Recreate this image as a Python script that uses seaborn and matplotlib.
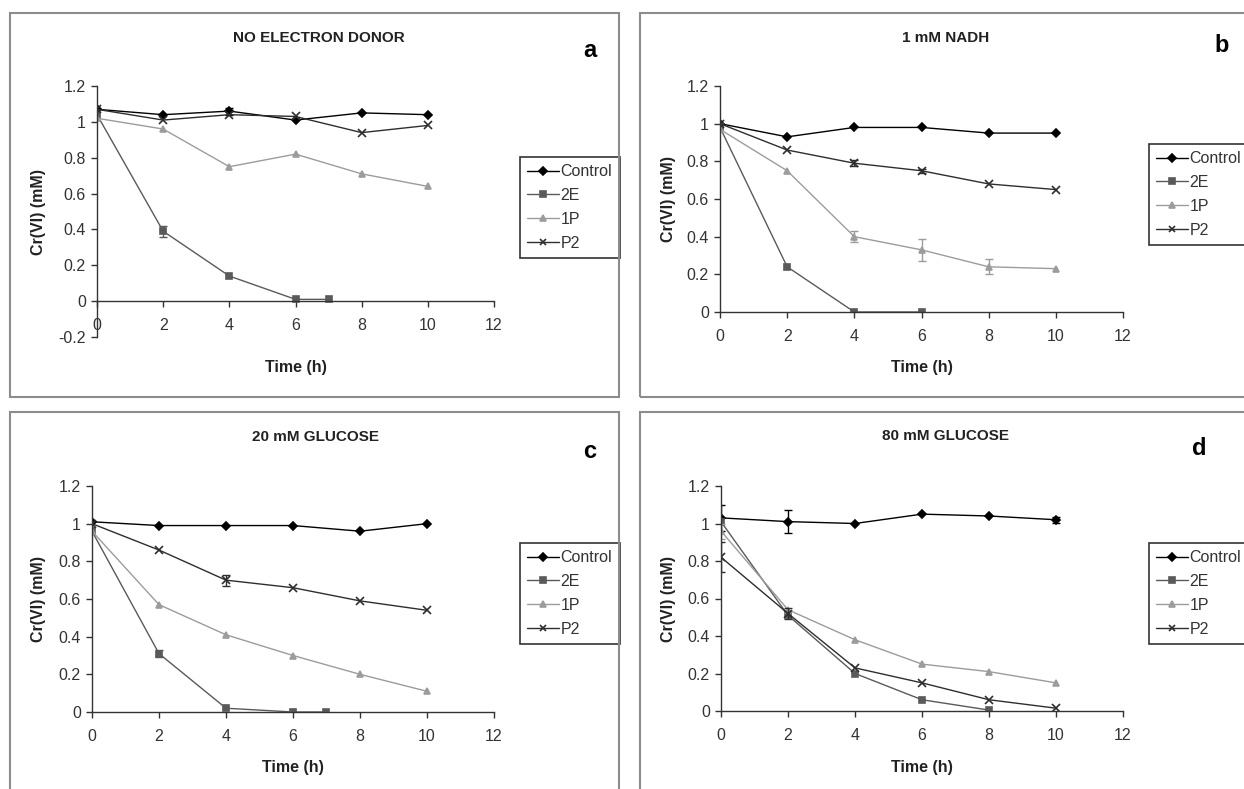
import numpy as np
import pandas as pd
import matplotlib
matplotlib.use('Agg')
import matplotlib.pyplot as plt
from matplotlib.lines import Line2D
from matplotlib.patches import Rectangle
from matplotlib.ticker import FuncFormatter
import seaborn as sns

# Time points (h)
t_full = [0, 2, 4, 6, 8, 10]
t_2e_a = [0, 2, 4, 6, 7]
t_2e_b = [0, 2, 4, 6]
t_2e_c = [0, 2, 4, 6, 7]
t_2e_d = [0, 2, 4, 6, 8]

# a - no electron donor
a_control = [1.07, 1.04, 1.06, 1.01, 1.05, 1.04]
a_2e = [1.04, 0.39, 0.14, 0.01, 0.01]
a_1p = [1.02, 0.96, 0.75, 0.82, 0.71, 0.64]
a_p2 = [1.07, 1.01, 1.04, 1.03, 0.94, 0.98]
a_control_err = [0, 0, 0.02, 0, 0, 0]
a_2e_err = [0, 0.03, 0, 0, 0]

# b - 1 mM NADH
b_control = [1.0, 0.93, 0.98, 0.98, 0.95, 0.95]
b_2e = [0.98, 0.24, 0.0, 0.0]
b_1p = [0.97, 0.75, 0.40, 0.33, 0.24, 0.23]
b_p2 = [1.0, 0.86, 0.79, 0.75, 0.68, 0.65]
b_1p_err = [0, 0, 0.03, 0.06, 0.04, 0]
b_p2_err = [0, 0, 0.015, 0.01, 0, 0]

# c - 20 mM glucose
c_control = [1.01, 0.99, 0.99, 0.99, 0.96, 1.0]
c_2e = [0.96, 0.31, 0.02, 0.0, 0.0]
c_1p = [0.96, 0.57, 0.41, 0.30, 0.20, 0.11]
c_p2 = [1.0, 0.86, 0.70, 0.66, 0.59, 0.54]
c_2e_err = [0, 0.02, 0, 0, 0]
c_p2_err = [0, 0, 0.03, 0, 0, 0]

# d - 80 mM glucose
d_control = [1.03, 1.01, 1.0, 1.05, 1.04, 1.02]
d_2e = [1.01, 0.51, 0.20, 0.06, 0.005]
d_1p = [0.96, 0.54, 0.38, 0.25, 0.21, 0.15]
d_p2 = [0.82, 0.52, 0.23, 0.15, 0.06, 0.015]
d_control_err = [0.07, 0.06, 0, 0, 0, 0.015]
d_1p_err = [0.04, 0, 0, 0, 0, 0]
d_p2_err = [0.08, 0.03, 0, 0, 0, 0]

series_names = ['Control', '2E', '1P', 'P2']
titles = ['NO ELECTRON DONOR', '1 mM NADH', '20 mM GLUCOSE', '80 mM GLUCOSE']
letters = ['a', 'b', 'c', 'd']

colors = {'Control': '#000000', '2E': '#5a5a5a', '1P': '#9c9c9c', 'P2': '#2e2e2e'}
markers = {'Control': 'D', '2E': 's', '1P': '^', 'P2': 'x'}
msizes = {'Control': 4.2, '2E': 4.2, '1P': 4.8, 'P2': 5.2}


def make_df(control, e2, p1, p2, t2e, errs):
    rows = []
    for name, tt, vals in [('Control', t_full, control), ('2E', t2e, e2),
                           ('1P', t_full, p1), ('P2', t_full, p2)]:
        err = errs.get(name, [0] * len(vals))
        for t, v, e in zip(tt, vals, err):
            rows.append({'time': t, 'value': v, 'err': e, 'series': name})
    return pd.DataFrame(rows)


data = [
    make_df(a_control, a_2e, a_1p, a_p2, t_2e_a, {'Control': a_control_err, '2E': a_2e_err}),
    make_df(b_control, b_2e, b_1p, b_p2, t_2e_b, {'1P': b_1p_err, 'P2': b_p2_err}),
    make_df(c_control, c_2e, c_1p, c_p2, t_2e_c, {'2E': c_2e_err, 'P2': c_p2_err}),
    make_df(d_control, d_2e, d_1p, d_p2, t_2e_d, {'Control': d_control_err, '1P': d_1p_err, 'P2': d_p2_err}),
]

# layout in pixels (left, right, top, bottom) etc.
W, H = 1244, 789
layout = [
    dict(rect=(97, 494, 86, 337), ylim=(-0.2, 1.2), frame=(10, 13, 619, 397),
         title=(319, 42), letter=(590, 57), legend=(520, 157), xlab=(296, 372), ylab=(38, 212)),
    dict(rect=(720, 1123, 86, 312), ylim=(0, 1.2), frame=(640, 13, 1260, 397),
         title=(946, 42), letter=(1222, 52), legend=(1149, 144), xlab=(922, 372), ylab=(668, 199)),
    dict(rect=(92, 494, 486, 712), ylim=(0, 1.2), frame=(10, 412, 619, 810),
         title=(316, 441), letter=(590, 458), legend=(520, 543), xlab=(293, 772), ylab=(38, 599)),
    dict(rect=(721, 1123, 486, 711), ylim=(0, 1.2), frame=(640, 412, 1260, 810),
         title=(945, 440), letter=(1199, 455), legend=(1149, 543), xlab=(922, 772), ylab=(668, 599)),
]

sns.set_style('ticks')
plt.rcParams['font.family'] = ['Liberation Sans', 'DejaVu Sans']

fig = plt.figure(figsize=(W / 100, H / 100), dpi=100)


def fx(x):
    return x / W


def fy(y):
    return 1 - y / H


fmt = FuncFormatter(lambda v, p: f'{round(v, 1):g}')

for df, lay, title, letter in zip(data, layout, titles, letters):
    l, r, t, b = lay['rect']
    ax = fig.add_axes([fx(l), fy(b), (r - l) / W, (b - t) / H])

    for name in series_names:
        sub = df[df['series'] == name]
        sns.lineplot(data=sub, x='time', y='value', color=colors[name], marker=markers[name],
                     markersize=msizes[name], markeredgecolor=colors[name],
                     markeredgewidth=1.2, linewidth=1.0, errorbar=None, legend=False, ax=ax)
        eb = sub[sub['err'] > 0]
        if len(eb):
            ax.errorbar(eb['time'], eb['value'], yerr=eb['err'], fmt='none',
                        ecolor=colors[name], elinewidth=1.0, capsize=3, capthick=1.0)

    ax.set_xlim(0, 12)
    ax.set_ylim(*lay['ylim'])
    ax.set_xticks(range(0, 13, 2))
    ax.set_yticks(np.round(np.arange(lay['ylim'][0], 1.21, 0.2), 1))
    ax.xaxis.set_major_formatter(fmt)
    ax.yaxis.set_major_formatter(fmt)
    ax.set_xlabel('')
    ax.set_ylabel('')
    sns.despine(ax=ax)
    if lay['ylim'][0] < 0:
        ax.spines['bottom'].set_position(('data', 0))
    for s in ['left', 'bottom']:
        ax.spines[s].set_color('#333333')
        ax.spines[s].set_linewidth(1.0)
    ax.tick_params(axis='both', colors='#333333', labelcolor='#333333', labelsize=11.5,
                   length=4, width=1.0, direction='out')
    ax.tick_params(axis='x', pad=8)
    ax.tick_params(axis='y', pad=4)
    ax.patch.set_alpha(0)

    handles = [Line2D([0], [0], color=colors[n], marker=markers[n], markersize=msizes[n] - 0.5,
                      markeredgecolor=colors[n], markeredgewidth=1.2, linewidth=1.0)
               for n in series_names]
    lx, ly = lay['legend']
    leg = ax.legend(handles, series_names, loc='upper left', bbox_to_anchor=(fx(lx), fy(ly)),
                    bbox_transform=fig.transFigure, borderaxespad=0, frameon=True, fancybox=False,
                    edgecolor='#333333', framealpha=1, fontsize=11.5, handlelength=2.0,
                    handletextpad=0.1, borderpad=0.45, labelspacing=0.55)
    leg.get_frame().set_linewidth(1.2)
    for txt in leg.get_texts():
        txt.set_color('#333333')

    fx0, fy0, fx1, fy1 = lay['frame']
    fig.add_artist(Rectangle((fx(fx0), fy(fy1)), (fx1 - fx0) / W, (fy1 - fy0) / H,
                             transform=fig.transFigure, fill=False, edgecolor='#8c8c8c',
                             linewidth=1.5))

    fig.text(fx(lay['title'][0]), fy(lay['title'][1]), title, ha='center', va='baseline',
             fontsize=11, fontweight='bold', color='#222222')
    fig.text(fx(lay['letter'][0]), fy(lay['letter'][1]), letter, ha='center', va='baseline',
             fontsize=17, fontweight='bold', color='#000000')
    fig.text(fx(lay['xlab'][0]), fy(lay['xlab'][1]), 'Time (h)', ha='center', va='baseline',
             fontsize=11.5, fontweight='bold', color='#222222')
    fig.text(fx(lay['ylab'][0]), fy(lay['ylab'][1]), 'Cr(VI) (mM)', ha='center', va='center',
             rotation=90, fontsize=11.5, fontweight='bold', color='#222222')

fig.savefig('out.png', dpi=100)
